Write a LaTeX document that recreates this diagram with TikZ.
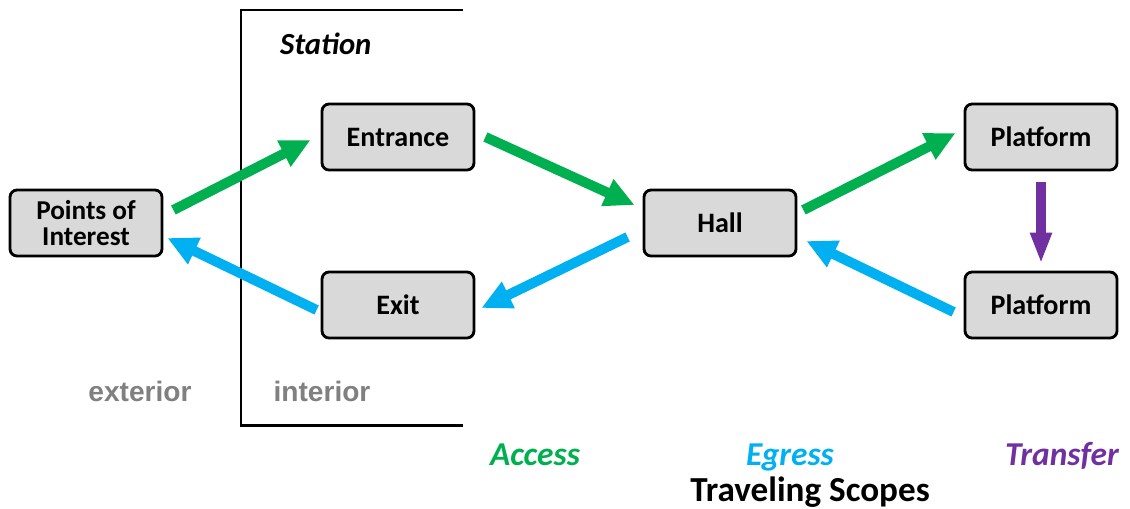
\documentclass[tikz,border=0pt]{standalone}
\usepackage{fontspec}
\setmainfont{Carlito}
\newfontfamily\embossfont{Liberation Sans}
\usetikzlibrary{arrows.meta, shapes.misc}

\definecolor{accessgreen}{RGB}{0,176,80}
\definecolor{egressblue}{RGB}{0,176,240}
\definecolor{transferpurple}{RGB}{112,48,160}
\definecolor{boxgray}{RGB}{217,217,217}

\begin{document}
\begin{tikzpicture}[x=0.02cm, y=-0.02cm,
	place/.style={draw, line width=1.6pt, rounded corners=4pt, fill=boxgray,
		minimum width=3.04cm, minimum height=1.32cm, inner sep=0pt, align=center,
		font=\fontsize{16}{13}\selectfont\bfseries},
	flow/.style={line width=0.2cm, -{Triangle[length=0.6cm, width=0.55cm]}},
	side/.style={anchor=base, font=\embossfont\fontsize{16}{18}\selectfont\bfseries, text=gray},
	scope/.style={anchor=base, font=\fontsize{19}{20}\selectfont\bfseries\itshape}
	]
	\useasboundingbox (0,0) rectangle (1130,508);

	% station frame
	\draw[line width=1.7pt] (463,10) -| (241,425) -- (463,425);
	\node[anchor=base west, font=\fontsize{17.5}{20}\selectfont\bfseries\itshape] (station) at (274,54) {Station};

	\node[place, font=\fontsize{15.5}{14.5}\selectfont\bfseries] (poi) at (86,223) {Points of\\Interest};
	\node[place] (entrance) at (398,137) {Entrance};
	\node[place] (exit) at (398,305) {Exit};
	\node[place] (hall) at (720,223) {Hall};
	\node[place] (platformA) at (1041,137) {Platform};
	\node[place] (platformB) at (1041,305) {Platform};

	\node[side] (exterior) at (140,401) {exterior};
	\node[side] (interior) at (322,401) {interior};

	\node[scope, text=accessgreen] (access) at (535,465) {Access};
	\node[scope, text=egressblue] (egress) at (790,465) {Egress};
	\node[scope, text=transferpurple] (transfer) at (1062,465) {Transfer};
	\node[anchor=base, font=\fontsize{20}{22}\selectfont\bfseries] (scopes) at (810,501) {Traveling Scopes};

	% access
	\draw[flow, accessgreen] ([shift={(10,-13)}]poi.east) -- ([shift={(-10,3)}]entrance.west);
	\draw[flow, accessgreen] ([shift={(10,0)}]entrance.east) -- ([shift={(-8,-18)}]hall.west);
	\draw[flow, accessgreen] ([shift={(6,-13)}]hall.east) -- ([shift={(-8,-4)}]platformA.west);

	% egress
	\draw[flow, egressblue] ([shift={(-15,14)}]hall.west) -- ([shift={(6,3)}]exit.east);
	\draw[flow, egressblue] ([shift={(-4,5)}]exit.west) -- ([shift={(4,15)}]poi.east);
	\draw[flow, egressblue] ([shift={(-10,7)}]platformB.west) -- ([shift={(9,18)}]hall.east);

	% transfer
	\draw[transferpurple, line width=0.21cm, -{Triangle[length=0.62cm, width=0.4cm]}]
		([shift={(0,11)}]platformA.south) -- ([shift={(0,-7)}]platformB.north);

\end{tikzpicture}
\end{document}
